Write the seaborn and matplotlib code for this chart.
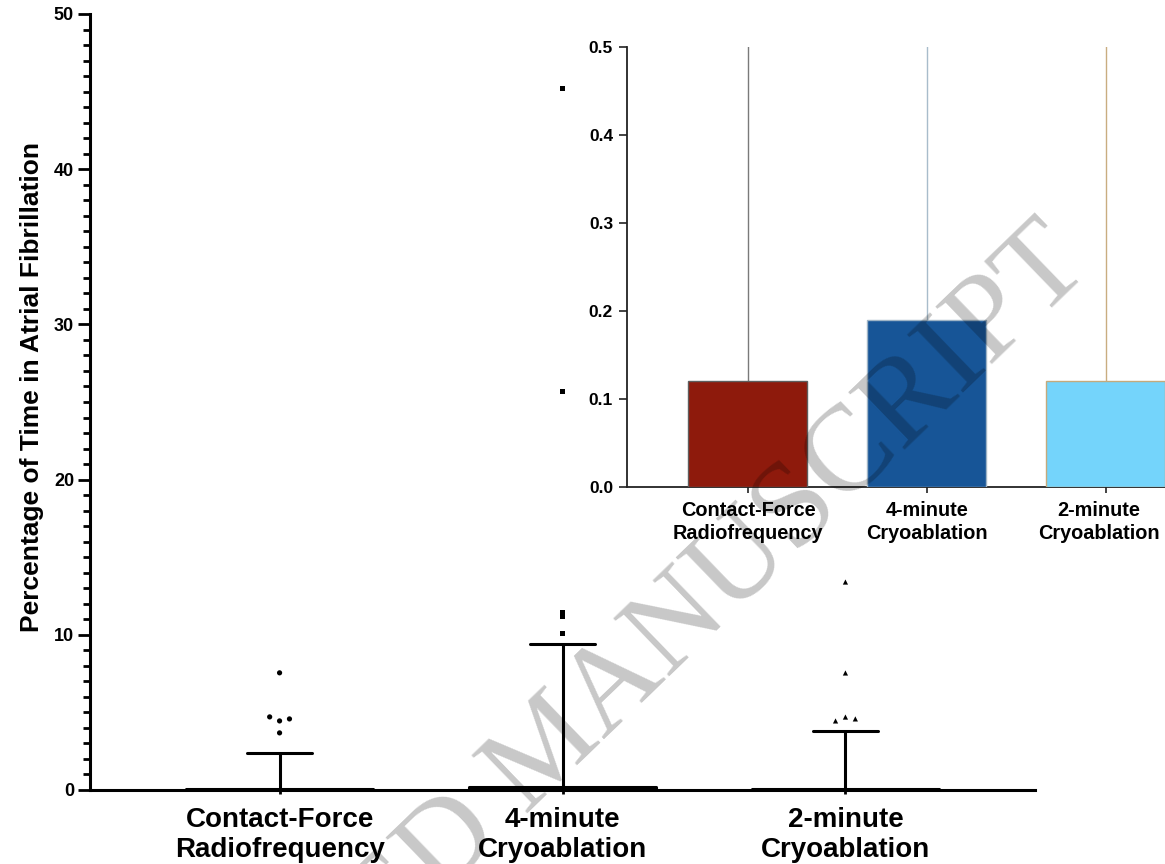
import matplotlib
matplotlib.use("Agg")
import matplotlib.pyplot as plt
import matplotlib.transforms as mtransforms
import seaborn as sns
import pandas as pd
from matplotlib.ticker import MultipleLocator

# ---------------- data ----------------
groups = ["Contact-Force\nRadiofrequency", "4-minute\nCryoablation", "2-minute\nCryoablation"]

box_q1 = [0.0, 0.0, 0.0]
box_median = [0.0, 0.0, 0.0]
box_q3 = [0.05, 0.19, 0.05]
whisker_low = [0.0, 0.0, 0.0]
whisker_high = [2.37, 9.39, 3.82]

rf_outliers = [7.55, 4.71, 4.45, 4.58, 3.68]
cryo4_outliers = [45.2, 25.7, 11.45, 11.2, 10.06]
cryo2_outliers = [13.4, 7.54, 4.45, 4.70, 4.58]

# horizontal jitter used to separate overlapping outliers (category units)
rf_jitter = [0.0, -0.035, 0.0, 0.035, 0.0]
cryo4_jitter = [0.0, 0.0, 0.0, 0.0, 0.0]
cryo2_jitter = [0.0, 0.0, -0.035, 0.0, 0.035]

inset_values = [0.12, 0.19, 0.12]
inset_err_upper = [0.75, 0.90, 0.80]

bar_colors = ["#8e1a0c", "#175597", "#74d4fb"]
bar_edges = ["#5e5e5e", "#9fb4c6", "#c4aa7c"]
err_colors = ["#7a7a7a", "#a8bccb", "#c9ad80"]

main_ylabel = "Percentage of Time in Atrial Fibrillation"
watermark = "ACCEPTED MANUSCRIPT"

# ---------------- style ----------------
sns.set_theme(style="white")
plt.rcParams["font.family"] = ["Liberation Sans", "DejaVu Sans"]
for key in ["text.color", "axes.labelcolor", "xtick.color", "ytick.color"]:
    plt.rcParams[key] = "black"

W, H = 1165, 864
fig = plt.figure(figsize=(W / 100, H / 100), dpi=100)

# ---------------- main axes ----------------
ax = fig.add_axes([90 / W, 1 - 790 / H, (1035 - 90) / W, (790 - 14) / H])

stats = []
for i in range(3):
    stats.append(dict(med=box_median[i], q1=box_q1[i], q3=box_q3[i],
                      whislo=whisker_low[i], whishi=whisker_high[i], fliers=[]))
line_kw = dict(color="black", linewidth=2.2)
ax.bxp(stats, positions=[0, 1, 2], widths=0.66, showfliers=False,
       boxprops=line_kw, whiskerprops=line_kw, capprops=line_kw,
       medianprops=line_kw, capwidths=0.23, manage_ticks=False, zorder=3)

fl = pd.concat([
    pd.DataFrame({"x": [0 + j for j in rf_jitter], "y": rf_outliers, "g": groups[0]}),
    pd.DataFrame({"x": [1 + j for j in cryo4_jitter], "y": cryo4_outliers, "g": groups[1]}),
    pd.DataFrame({"x": [2 + j for j in cryo2_jitter], "y": cryo2_outliers, "g": groups[2]}),
], ignore_index=True)
sns.scatterplot(data=fl, x="x", y="y", style="g",
                markers={groups[0]: "o", groups[1]: "s", groups[2]: "^"},
                color="black", s=14, linewidth=0, legend=False, ax=ax, zorder=4)

ax.set_xlim(-0.67, 2.67)
ax.set_ylim(0, 50)
ax.set_xticks([0, 1, 2])
ax.set_xticklabels(groups, fontsize=20, fontweight="bold", linespacing=1.2)
ax.yaxis.set_major_locator(MultipleLocator(10))
ax.yaxis.set_minor_locator(MultipleLocator(1))
ax.tick_params(axis="y", which="major", length=8.5, width=2.0, color="black",
               direction="out", left=True, pad=3, labelsize=13)
ax.tick_params(axis="y", which="minor", length=5, width=2.0, color="black",
               direction="out", left=True)
ax.tick_params(axis="x", length=3, width=2.0, color="black", bottom=True, pad=9)
for lab in ax.get_yticklabels():
    lab.set_fontweight("bold")
ax.set_xlabel("")
ax.set_ylabel(main_ylabel, fontsize=19, fontweight="bold")
ax.yaxis.set_label_coords((44 - 90) / (1035 - 90), 0.519)
for s in ["top", "right"]:
    ax.spines[s].set_visible(False)
for s in ["left", "bottom"]:
    ax.spines[s].set_linewidth(2.2)
    ax.spines[s].set_color("black")
ax.set_facecolor("none")

# ---------------- inset ----------------
ins = fig.add_axes([627 / W, 1 - 487 / H, (W - 627) / W, (487 - 47) / H])
inset_df = pd.DataFrame({"group": groups, "value": inset_values})
sns.barplot(data=inset_df, x="group", y="value", hue="group", palette=bar_colors,
            saturation=1, width=0.665, errorbar=None, legend=False, ax=ins, zorder=3)
for patch, ec in zip(ins.patches, bar_edges):
    patch.set_edgecolor(ec)
    patch.set_linewidth(1.0)
ins.vlines([0, 1, 2], inset_values, inset_err_upper, colors=err_colors,
           linewidth=1.0, zorder=2)
ins.set_xlim(-0.676, 2.33)
ins.set_ylim(0, 0.5)
ins.set_yticks([0.0, 0.1, 0.2, 0.3, 0.4, 0.5])
ins.set_yticklabels(["0.0", "0.1", "0.2", "0.3", "0.4", "0.5"], fontsize=12.5, fontweight="bold")
ins.set_xticks([0, 1, 2])
ins.set_xticklabels(groups, fontsize=14.3, fontweight="bold", linespacing=1.3)
ins.tick_params(axis="y", length=6, width=1.2, color="#222222", left=True, pad=4)
ins.tick_params(axis="x", length=4, width=1.2, color="#222222", bottom=True, pad=6)
# keep the last label inside the figure edge, as in the reference
last = ins.get_xticklabels()[-1]
last.set_transform(last.get_transform() +
                   mtransforms.ScaledTranslation(-7 / 100, 0, fig.dpi_scale_trans))
ins.set_xlabel("")
ins.set_ylabel("")
for s in ["top", "right"]:
    ins.spines[s].set_visible(False)
for s in ["left", "bottom"]:
    ins.spines[s].set_linewidth(1.3)
    ins.spines[s].set_color("#222222")
ins.set_facecolor("none")

# ---------------- watermark ----------------
fig.text(1092 / W, 1 - 268 / H, watermark, fontsize=88, family="Liberation Serif",
         color="black", alpha=0.22, rotation=44, rotation_mode="anchor",
         ha="right", va="baseline", zorder=10)

fig.savefig("out.png", dpi=100, facecolor="white")
